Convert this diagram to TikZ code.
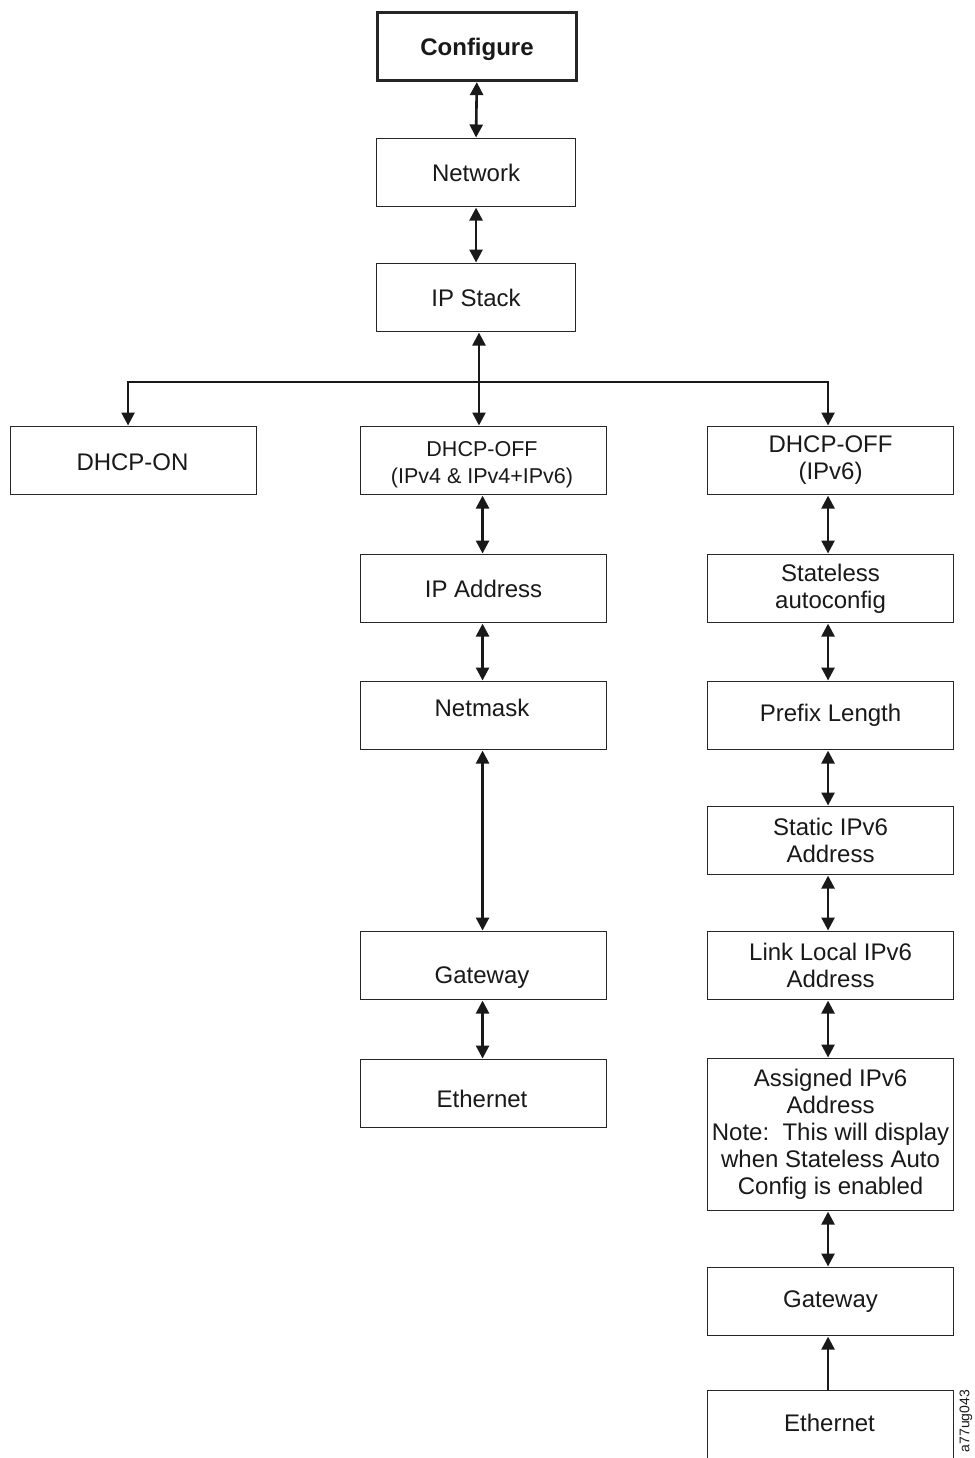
\documentclass[tikz,border=0pt]{standalone}
\usepackage{fontspec}
\setmainfont{Liberation Sans}
\usetikzlibrary{arrows.meta}
\begin{document}
\begin{tikzpicture}[x=1pt,y=-1pt,
  box/.style={draw=black!85, line width=1.1pt, fill=white, anchor=north west, inner sep=0pt,
    align=center, font=\fontsize{24}{27}\selectfont, text=black!90},
  wl/.style={box, minimum width=199pt, minimum height=68pt},
  wm/.style={box, minimum width=246pt, minimum height=68pt},
  lbl/.style={font=\fontsize{24}{27}\selectfont, text=black!90, align=center, inner sep=0pt},
  con/.style={line width=2.6pt, draw=black!90},
  dbl/.style={con, {Triangle[width=13pt,length=13pt]}-{Triangle[width=13pt,length=13pt]}, shorten <=0.5pt, shorten >=0.5pt},
  sgl/.style={con, -{Triangle[width=13pt,length=13pt]}, shorten >=0.5pt},
]
\useasboundingbox (0,0) rectangle (974,1458);

% column 1
\node[wl, line width=2.6pt] (cfg) at (376,11) {};
\node[lbl, font=\bfseries\fontsize{24}{27}\selectfont] (cfgt) at (477,49) {Configure};
\node[wl] (net) at (376,138) {Network};
\node[wl] (ips) at (376,263) {IP Stack};

% row of DHCP
\node[wm] (don) at (10,426) {};
\node[lbl] (dont) at (132.5,462) {DHCP-ON};
\node[wm] (doff4) at (360,426) {};
\node[lbl, font=\fontsize{21.5}{27}\selectfont] (doff4t) at (482,465) {DHCP-OFF\\(IPv4 \& IPv4+IPv6)};
\node[wm] (doff6) at (707,426) {DHCP-OFF\\(IPv6)};

% middle column
\node[wm] (ipa) at (360,554) {IP Address};
\node[wm] (nm) at (360,681) {};
\node[lbl] (nmt) at (482,707.5) {Netmask};
\node[wm] (gw4) at (360,931) {};
\node[lbl] (gw4t) at (482,978) {Gateway};
\node[wm] (eth4) at (360,1059) {};
\node[lbl] (eth4t) at (482,1099) {Ethernet};

% right column
\node[wm] (sac) at (707,554) {Stateless\\autoconfig};
\node[wm] (pfx) at (707,681) {Prefix Length};
\node[wm] (sip) at (707,806) {Static IPv6\\Address};
\node[wm] (lli) at (707,931) {Link Local IPv6\\Address};
\node[wm, minimum height=152pt] (asg) at (707,1058) {Assigned IPv6\\Address\\Note:\ \ This will display\\when Stateless Auto\\Config is enabled};
\node[wm] (gw6) at (707,1267) {Gateway};
\node[wm, minimum height=90pt] (eth6) at (707,1390) {};
\node[lbl] (eth6t) at (829.5,1423) {Ethernet};

% connectors
\draw[dbl] (cfg.south) -- (net.north);
\draw[dbl] (net.south) -- (ips.north);
\coordinate (bar) at (479,382);
\draw[dbl] (ips.south -| bar) -- (doff4.north -| bar);
\draw[sgl, line join=miter] (bar) -| ([xshift=-5.5pt]don.north);
\draw[sgl, line join=miter] (bar) -| ([xshift=-2.5pt]doff6.north);

\draw[dbl] ([xshift=-1pt]doff4.south) -- ([xshift=-1pt]ipa.north);
\draw[dbl] ([xshift=-1pt]ipa.south) -- ([xshift=-1pt]nm.north);
\draw[dbl] ([xshift=-1pt]nm.south) -- ([xshift=-1pt]gw4.north);
\draw[dbl] ([xshift=-1pt]gw4.south) -- ([xshift=-1pt]eth4.north);

\draw[dbl] ([xshift=-2.5pt]doff6.south) -- ([xshift=-2.5pt]sac.north);
\draw[dbl] ([xshift=-2.5pt]sac.south) -- ([xshift=-2.5pt]pfx.north);
\draw[dbl] ([xshift=-2.5pt]pfx.south) -- ([xshift=-2.5pt]sip.north);
\draw[dbl] ([xshift=-2.5pt]sip.south) -- ([xshift=-2.5pt]lli.north);
\draw[dbl] ([xshift=-2.5pt]lli.south) -- ([xshift=-2.5pt]asg.north);
\draw[dbl] ([xshift=-2.5pt]asg.south) -- ([xshift=-2.5pt]gw6.north);
\draw[sgl] ([xshift=-2.5pt]eth6.north) -- ([xshift=-2.5pt]gw6.south);

\node[rotate=90, font=\fontsize{14}{14}\selectfont, inner sep=0pt, text=black!90] (fig) at (966,1421) {a77ug043};
\end{tikzpicture}
\end{document}
